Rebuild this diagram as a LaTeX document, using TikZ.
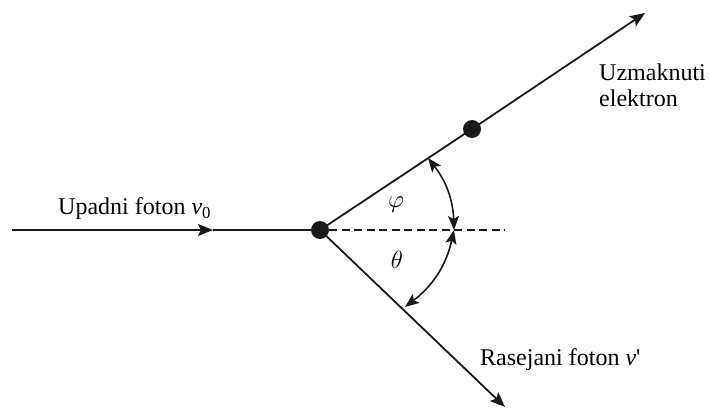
\documentclass[tikz,border=0pt]{standalone}
\usepackage{fontspec}
\setmainfont{Liberation Serif}
\usetikzlibrary{arrows.meta, positioning}

\begin{document}
\begin{tikzpicture}[
    x=1pt, y=1pt,
    every node/.style={font=\fontsize{24}{26}\selectfont, inner sep=0pt},
    particle/.style={circle, fill=black!90, minimum size=18pt, inner sep=0pt},
    ray/.style={line width=1.8pt, draw=black!90},
    rayarrow/.style={ray, -{Stealth[length=15pt, width=12pt, inset=3pt]}},
    anglearc/.style={line width=1.6pt, draw=black!90, {Stealth[length=14pt, width=11pt, inset=3pt]}-{Stealth[length=14pt, width=11pt, inset=3pt]}},
    axisline/.style={line width=1.6pt, draw=black!90, dash pattern=on 8pt off 4.5pt},
    txt/.style={anchor=base west}
]

\useasboundingbox (0,0) rectangle (710,410);

% Particles
\node[particle] (o) at (320,180) {};
\node[particle] (e) at (472,281) {};

% Free ends
\coordinate (in) at (12,180);
\coordinate (mid) at (213,180);
\coordinate (etip) at (645,397);
\coordinate (ptip) at (505,3);
\coordinate (axend) at (505,180);

% Rays
\draw[rayarrow] (in) -- (mid);
\draw[ray] (mid) -- (o.center);
\draw[ray] (o.center) -- (e.center);
\draw[rayarrow] (e.center) -- (etip);
\draw[rayarrow] (o.center) -- (ptip);
\draw[axisline] (o.east) -- (axend);

% Angles
\coordinate (a0) at (454,180);
\coordinate (aphi) at (428,252);
\coordinate (ath) at (405,103);
\draw[anglearc] (a0) to[bend right=18] (aphi);
\draw[anglearc] (a0) to[bend left=20] (ath);
\node (phi) at (396,205) {$\varphi$};
\node (theta) at (397,150) {$\theta$};

% Labels
\node[txt] (upadni) at (58,195) {Upadni foton \textit{v}\textsubscript{0}};
\node[txt] (uzm) at (599,329) {Uzmaknuti};
\node[txt] (elek) at (599,303) {elektron};
\node[txt] (rasejani) at (480,45) {Rasejani foton \textit{v}\textquotesingle};

\end{tikzpicture}
\end{document}
